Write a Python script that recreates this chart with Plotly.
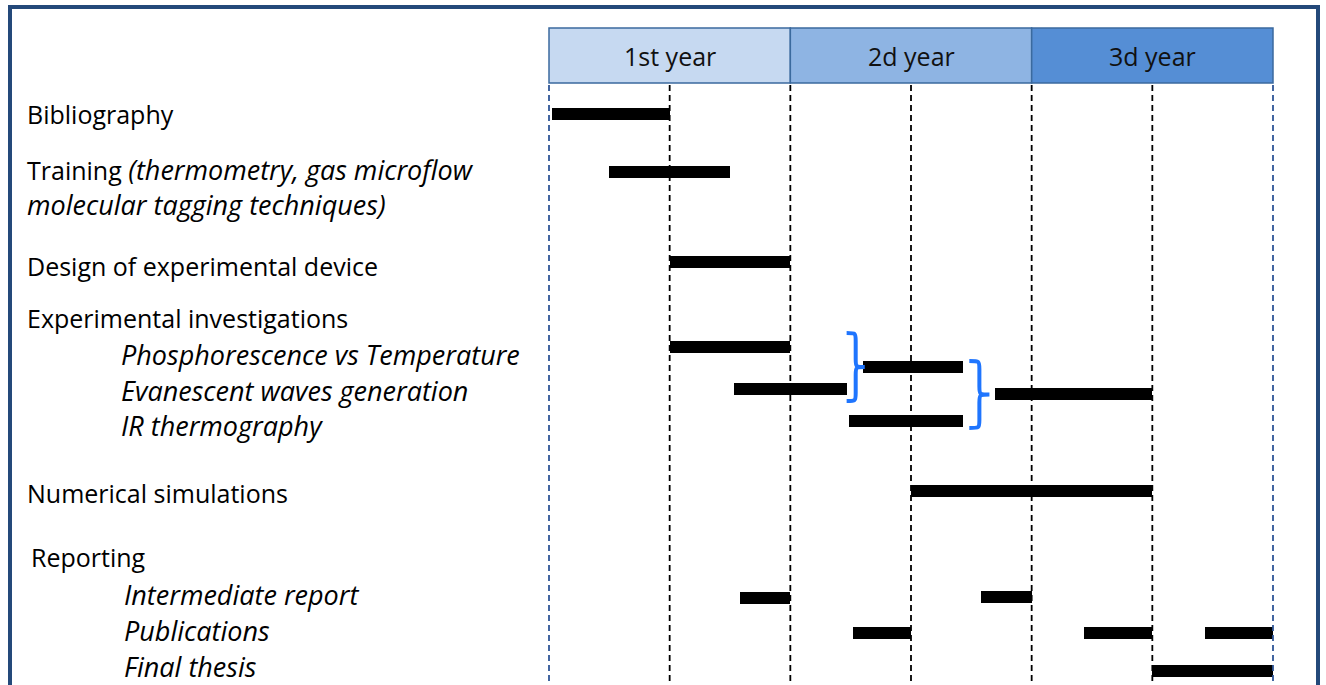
import plotly.graph_objects as go

# ---------------- data ----------------
years = ["1st year", "2d year", "3d year"]
year_months = [0, 12, 24, 36]
half_year_ticks = [0, 6, 12, 18, 24, 30, 36]

# bars: start month, end month, row position (rows in layout units, top = 0)
bar_start = [0.15, 3, 6, 6, 15.6, 9.2, 14.9, 22.2, 18, 9.5, 21.5, 15.1, 26.6, 32.6, 30]
bar_end   = [6, 9, 12, 12, 20.6, 14.8, 20.6, 30, 30, 12, 24, 18, 30, 36, 36]
bar_row   = [114, 172, 262, 347, 367, 389, 421, 394, 491, 598, 597, 633, 633, 633, 671]

labels = [
    ("Bibliography", 25, 115),
    ("Training <i><span style='font-size:27px'>(thermometry, gas microflow</span></i>", 25, 170),
    ("<i>molecular tagging techniques)</i>", 25, 206),
    ("Design of experimental device", 25, 267),
    ("Experimental investigations", 25, 319),
    ("<i>Phosphorescence vs Temperature</i>", 119, 355),
    ("<i>Evanescent waves generation</i>", 119, 391),
    ("<i>IR thermography</i>", 119, 427),
    ("Numerical simulations", 25, 494),
    ("Reporting", 29, 558),
    ("<i>Intermediate report</i>", 122, 595),
    ("<i>Publications</i>", 122, 631),
    ("<i>Final thesis</i>", 122, 667),
]

# braces grouping bars: (left month, tip month, top row, bottom row)
braces = [(14.8, 15.7, 333, 401), (20.9, 21.9, 361, 428)]

# ---------------- layout geometry ----------------
W, H = 1326, 685
px0, px36 = 549, 1273
s = 36.0 / (px36 - px0)
xr = [-px0 * s, (W - px0) * s]
FONT = "Open Sans"

fig = go.Figure()

# dashed half-year lines
for m in half_year_ticks:
    col = "#2F5597" if m in (0, 36) else "#000000"
    fig.add_trace(go.Scatter(x=[m, m], y=[85, H], mode="lines",
                             line=dict(color=col, width=1.8, dash="6px,4px"),
                             hoverinfo="skip", showlegend=False))

# bars
fig.add_trace(go.Bar(orientation="h", base=bar_start,
                     x=[e - b for b, e in zip(bar_start, bar_end)],
                     y=bar_row, width=12, marker=dict(color="#000000", line=dict(width=0)),
                     showlegend=False, hoverinfo="skip"))

shapes = []
year_cols = ["#C6D9F1", "#8EB4E3", "#558ED5"]
for i, name in enumerate(years):
    shapes.append(dict(type="rect", xref="x", yref="y", x0=year_months[i], x1=year_months[i + 1],
                       y0=28, y1=83, fillcolor=year_cols[i],
                       line=dict(color="#3B6A9E", width=1.5), layer="above"))
annotations = []
for i, name in enumerate(years):
    annotations.append(dict(x=(year_months[i] + year_months[i + 1]) / 2, y=56, xref="x", yref="y",
                            text=name, showarrow=False, xanchor="center", yanchor="middle",
                            font=dict(family=FONT, size=25, color="#111111")))

for txt, px, py in labels:
    italic_only = txt.startswith("<i>")
    annotations.append(dict(x=px / W, y=1 - (py - 1) / H, xref="paper", yref="paper", text=txt,
                            showarrow=False, xanchor="left", yanchor="middle",
                            font=dict(family=FONT, size=27 if italic_only else 25, color="#000000")))

# braces as paths
for x0, x1, yt, yb in braces:
    xm = x0 + (x1 - x0) * 0.5
    ym = (yt + yb) / 2
    r = 8
    path = (f"M {x0},{yt} C {xm},{yt} {xm},{yt} {xm},{yt + r} "
            f"L {xm},{ym - r} C {xm},{ym} {xm},{ym} {x1},{ym} "
            f"C {xm},{ym} {xm},{ym} {xm},{ym + r} "
            f"L {xm},{yb - r} C {xm},{yb} {xm},{yb} {x0},{yb}")
    shapes.append(dict(type="path", xref="x", yref="y", path=path,
                       line=dict(color="#1F75FE", width=4)))

# outer frame
shapes.append(dict(type="rect", xref="paper", yref="paper", x0=10 / W, x1=1318 / W,
                   y0=-0.05, y1=1 - 7 / H, line=dict(color="#24497A", width=4),
                   fillcolor="rgba(0,0,0,0)"))

fig.update_layout(
    width=W, height=H, margin=dict(l=0, r=0, t=0, b=0, pad=0),
    paper_bgcolor="white", plot_bgcolor="white",
    xaxis=dict(range=xr, visible=False, fixedrange=True),
    yaxis=dict(range=[H, 0], visible=False, fixedrange=True),
    shapes=shapes, annotations=annotations, bargap=0, showlegend=False,
)

fig.write_html("out.html", config={"displayModeBar": False},
               post_script="document.body.style.margin='0';document.body.style.overflow='hidden';")
